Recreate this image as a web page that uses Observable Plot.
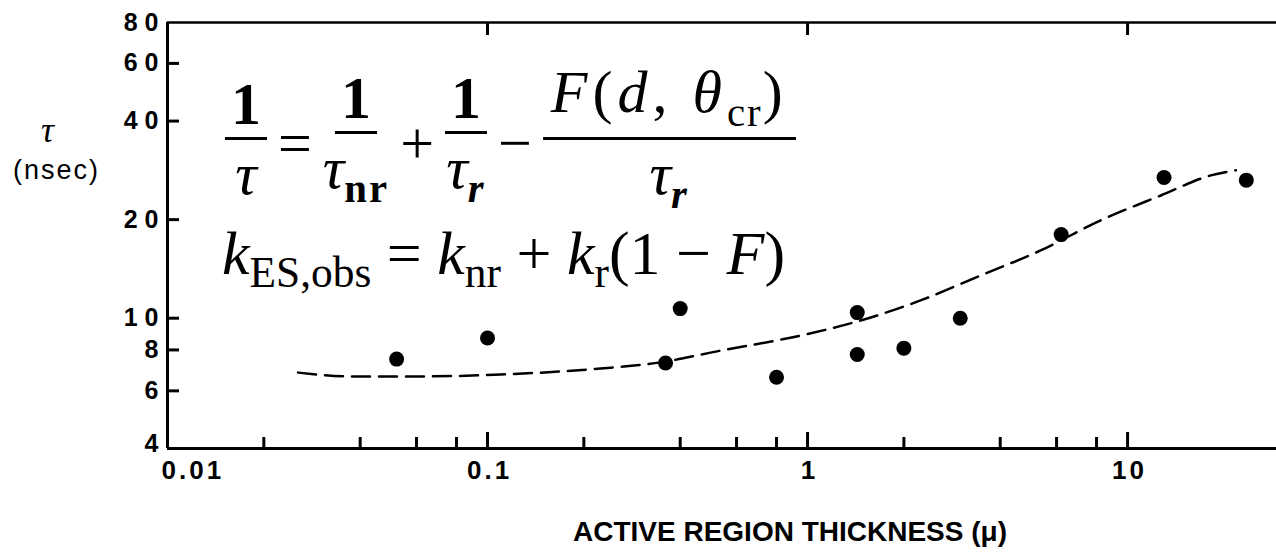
<!DOCTYPE html>
<html>
<head>
<meta charset="utf-8">
<script src="https://cdn.jsdelivr.net/npm/d3@7"></script>
<script src="https://cdn.jsdelivr.net/npm/@observablehq/plot@0.6"></script>
<style>
  body { margin: 0; background: #fff; }
  #wrap { position: relative; width: 1276px; height: 558px; overflow: hidden; }
  .eq { position: absolute; font-family: "Liberation Serif", "DejaVu Serif", serif; color: #000; white-space: nowrap; }
  .eq1 { left: 222px; top: 62px; font-size: 60px; display: flex; align-items: center; }
  .frac { display: inline-flex; flex-direction: column; align-items: center; margin: 0 3px; }
  .frac .num { padding: 0 6px 3px; border-bottom: 3px solid #000; line-height: 1.0; }
  .frac .den { padding-top: 4px; line-height: 1.0; }
  .op { margin: 0 8px; position: relative; top: 4px; }
  .b { font-weight: bold; }
  .eq1 sub { font-size: 0.68em; vertical-align: -0.35em; letter-spacing: 2px; }
  .wide { letter-spacing: 5px; padding: 0 8px 3px !important; }
  .eq2 { left: 222px; top: 218px; font-size: 62px; }
  .eq2 sub { font-size: 0.7em; vertical-align: -0.3em; }
</style>
</head>
<body>
<div id="wrap">
  <div id="chart"></div>
  <div class="eq eq1">
    <span class="frac"><span class="num b">1</span><span class="den"><i>τ</i></span></span>
    <span class="op">=</span>
    <span class="frac"><span class="num b">1</span><span class="den"><i>τ</i><sub class="b">nr</sub></span></span>
    <span class="op">+</span>
    <span class="frac"><span class="num b">1</span><span class="den"><i>τ</i><sub><i class="b">r</i></sub></span></span>
    <span class="op">−</span>
    <span class="frac"><span class="num wide"><i>F</i>(<i>d</i>, <i>θ</i><sub>cr</sub>)</span><span class="den"><i>τ</i><sub><i class="b">r</i></sub></span></span>
  </div>
  <div class="eq eq2"><i>k</i><sub>ES,obs</sub> = <i>k</i><sub>nr</sub> + <i>k</i><sub>r</sub>(1 − <i>F</i>)</div>
</div>
<script>
// Measured lifetimes versus active region thickness
const thickness = [0.052, 0.1, 0.36, 0.40, 0.80, 1.43, 1.43, 2.0, 3.0, 6.2, 13.0, 23.5];
const lifetime  = [7.5, 8.7, 7.3, 10.7, 6.6, 7.75, 10.4, 8.1, 10.0, 18.0, 26.9, 26.4];

// Calculated curve (dashed)
const fitThickness = [0.0256, 0.0373, 0.0617, 0.11, 0.2255, 0.347, 0.535, 0.951, 1.465, 2.255, 3.47, 5.35, 8.24, 12.7, 18.2, 21.8];
const fitLifetime  = [6.82, 6.64, 6.64, 6.73, 7.02, 7.33, 7.96, 8.85, 9.84, 11.33, 13.5, 16.1, 19.9, 23.7, 27.3, 28.3];

// Axis ticks and their labels
const xMajor = [0.1, 1, 10];
const xMajorLabels = ["0.1", "1", "10"];
const xFirst = [0.01];
const xFirstLabels = ["0.01"];
const xMinor = [0.02, 0.04, 0.06, 0.08, 0.2, 0.4, 0.6, 0.8, 2, 4, 6, 8];
const xTop = [0.1, 1, 10];
const yLabels = [6, 8, 10, 20, 40, 60, 80];
const yBottomLabel = [4];
const yTicks = [6, 8, 10, 20, 40, 60];

const points = thickness.map((d, i) => ({d, tau: lifetime[i]}));
const fit = fitThickness.map((d, i) => ({d, tau: fitLifetime[i]}));

const labelFont = "Liberation Sans, Arial, sans-serif";
const tickFont = {fontSize: 25, fontWeight: "bold", fontFamily: labelFont};

const chart = Plot.plot({
  width: 1276,
  height: 558,
  marginLeft: 167,
  marginRight: 0,
  marginTop: 22,
  marginBottom: 110,
  style: {background: "transparent", color: "#000"},
  x: {type: "log", domain: [0.01, 29.2]},
  y: {type: "log", domain: [4, 80]},
  marks: [
    // frame: left, bottom and top edges
    Plot.ruleX([0.01], {stroke: "#000", strokeWidth: 3}),
    Plot.ruleY([4], {stroke: "#000", strokeWidth: 3}),
    Plot.ruleY([80], {stroke: "#000", strokeWidth: 2.5}),
    // inward ticks along the bottom, top and left
    Plot.axisX(xMajor, {anchor: "bottom", tickSize: -16, strokeWidth: 3, tickFormat: () => "", label: null}),
    Plot.axisX(xMinor, {anchor: "bottom", tickSize: -11, strokeWidth: 3, tickFormat: () => "", label: null}),
    Plot.axisX(xTop, {anchor: "top", tickSize: -12, strokeWidth: 3, tickFormat: () => "", label: null}),
    Plot.axisY(yTicks, {anchor: "left", tickSize: -12, strokeWidth: 3, tickFormat: () => "", label: null}),
    // tick labels
    Plot.text(xMajor, {x: d => d, frameAnchor: "bottom", lineAnchor: "top", dy: 12, dx: 2,
      text: (d, i) => xMajorLabels[i], ...tickFont, fontSize: 26}),
    Plot.text(xFirst, {x: d => d, frameAnchor: "bottom", lineAnchor: "top", textAnchor: "start", dx: -6, dy: 12,
      text: (d, i) => xFirstLabels[i], ...tickFont, fontSize: 26}),
    Plot.text(yLabels, {y: d => d, frameAnchor: "left", textAnchor: "end", dx: -2,
      text: d => String(d), ...tickFont}),
    Plot.text(yBottomLabel, {y: d => d, frameAnchor: "left", textAnchor: "end", dx: -2, dy: -5,
      text: d => String(d), ...tickFont}),
    // axis titles
    Plot.text(["ACTIVE REGION THICKNESS (μ)"], {frameAnchor: "bottom", dx: 68, dy: 84, lineAnchor: "middle",
      fontSize: 28, fontWeight: "bold", fontFamily: labelFont}),
    Plot.text(["τ"], {frameAnchor: "top-left", textAnchor: "middle", lineAnchor: "middle", dx: -120, dy: 108,
      fontSize: 36, fontStyle: "italic", fontFamily: "Liberation Serif, serif"}),
    Plot.text(["(nsec)"], {frameAnchor: "top-left", textAnchor: "middle", lineAnchor: "middle", dx: -111, dy: 148,
      fontSize: 27, fontFamily: labelFont}),
    // dashed calculated curve
    Plot.line(fit, {x: "d", y: "tau", stroke: "#000", strokeWidth: 2.5, strokeDasharray: "18 9", curve: "monotone-x"}),
    // measured points
    Plot.dot(points, {x: "d", y: "tau", r: 7.5, fill: "#000", stroke: "none"})
  ]
});

// widen the letter spacing of the tick and axis labels
const textGroups = d3.select(chart).selectAll('g[aria-label="text"]').nodes();
[0, 1].forEach(i => d3.select(textGroups[i]).selectAll("text").style("letter-spacing", "3px"));
[2, 3].forEach(i => d3.select(textGroups[i]).selectAll("text").style("letter-spacing", "7px"));
d3.select(textGroups[6]).selectAll("text").style("letter-spacing", "2px");

document.getElementById("chart").appendChild(chart);
</script>
</body>
</html>
